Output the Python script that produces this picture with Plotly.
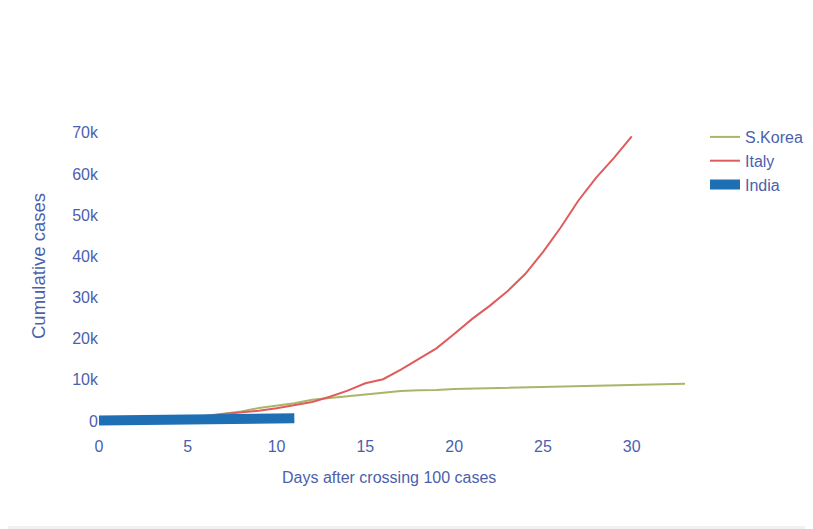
import plotly.graph_objects as go

# Days after crossing 100 cases
korea_days = list(range(34))
korea_cases = [104, 204, 433, 602, 833, 977, 1261, 1766, 2337, 3150, 3736, 4335, 5186, 5621,
               6088, 6593, 7041, 7314, 7478, 7513, 7755, 7869, 7979, 8086, 8162, 8236, 8320,
               8413, 8565, 8652, 8799, 8897, 8961, 9037]

italy_days = list(range(31))
italy_cases = [155, 229, 322, 453, 655, 888, 1128, 1694, 2036, 2502, 3089, 3858, 4636, 5883,
               7375, 9172, 10149, 12462, 15113, 17660, 21157, 24747, 27980, 31506, 35713,
               41035, 47021, 53578, 59138, 63927, 69176]

india_days = list(range(12))
india_cases = [100, 114, 129, 151, 173, 223, 283, 360, 468, 519, 606, 694]

x_ticks = [0, 5, 10, 15, 20, 25, 30]
y_ticks = [0, 10000, 20000, 30000, 40000, 50000, 60000, 70000]
y_tick_labels = ["0", "10k", "20k", "30k", "40k", "50k", "60k", "70k"]

x_title = "Days after crossing 100 cases"
y_title = "Cumulative cases"

# page body has an 8px margin, so the figure is sized to fit the 813x529 window
W, H = 805, 521
ML, MR, MT, MB = 91, 128, 115, 94
PW, PH = W - ML - MR, H - MT - MB

txt = "#4c5fae"
fs = 16
fig = go.Figure()
fig.add_trace(go.Scatter(x=korea_days, y=korea_cases, mode="lines", name="S.Korea",
                         line=dict(color="#abb56a", width=2)))
fig.add_trace(go.Scatter(x=italy_days, y=italy_cases, mode="lines", name="Italy",
                         line=dict(color="#e05c5c", width=2)))
fig.add_trace(go.Scatter(x=india_days, y=india_cases, mode="lines", name="India",
                         line=dict(color="#1f6fb5", width=10)))


def px_x(p):
    return (p - ML) / PW


def px_y(p):
    return (H - MB - p) / PH


fig.add_shape(type="rect", xref="paper", yref="paper", layer="below",
              x0=px_x(0), x1=px_x(W), y0=px_y(H), y1=px_y(H - 3),
              fillcolor="#f1f1f1", line=dict(width=0))

fig.add_annotation(text=x_title, xref="paper", yref="paper", x=px_x(381), y=px_y(469),
                   xanchor="center", yanchor="middle", showarrow=False,
                   font=dict(size=16, color=txt))
fig.add_annotation(text=y_title, xref="paper", yref="paper", x=px_x(30), y=px_y(258),
                   xanchor="center", yanchor="middle", showarrow=False, textangle=-90,
                   font=dict(size=18.5, color=txt))

fig.update_layout(
    width=W, height=H,
    margin=dict(l=ML, r=MR, t=MT, b=MB, autoexpand=False),
    paper_bgcolor="white",
    plot_bgcolor="white",
    font=dict(family="Arial, Liberation Sans, sans-serif", size=fs, color=txt),
    showlegend=True,
    legend=dict(x=1 + 20 / PW, y=1 + 3 / PH, xanchor="left", yanchor="top",
                bgcolor="rgba(0,0,0,0)", font=dict(size=fs, color=txt)),
    xaxis=dict(range=[0, 33], tickvals=x_ticks, showgrid=False, zeroline=False,
               showline=False, tickfont=dict(size=fs, color=txt)),
    yaxis=dict(range=[-3400, 72400], tickvals=y_ticks, ticktext=y_tick_labels,
               showgrid=False, zeroline=False, showline=False,
               tickfont=dict(size=fs, color=txt)),
)

fig.write_html("out.html")
